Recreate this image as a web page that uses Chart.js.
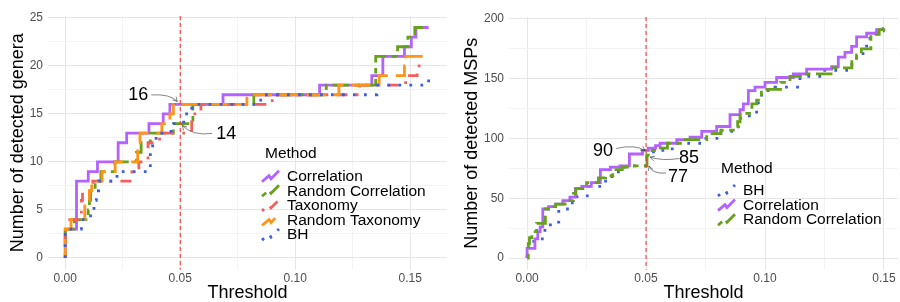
<!DOCTYPE html>
<html>
<head>
<meta charset="utf-8">
<script src="https://cdn.jsdelivr.net/npm/chart.js@4"></script>
<style>
  body { margin: 0; background: #fff; }
  #wrap { display: flex; width: 900px; height: 302px; }
  canvas { display: block; }
</style>
</head>
<body>
<div id="wrap">
  <canvas id="genera" width="450" height="302"></canvas>
  <canvas id="msps" width="450" height="302"></canvas>
</div>
<script>
// Genera panel: step points [threshold, count]
const generaCorrelation = [[0,0],[0,3],[0.0049,8],[0.010,9],[0.014,10],[0.023,12],[0.0267,13],[0.0364,14],[0.0426,15],[0.0455,16],[0.0686,17],[0.1106,18],[0.1333,19],[0.1381,21],[0.1475,22],[0.1505,23],[0.1525,24],[0.158,24]];
const generaRandomCorrelation = [[0,0],[0,3],[0.004,4],[0.010,5],[0.0105,6],[0.011,7],[0.013,8],[0.0155,9],[0.0215,10],[0.031,11],[0.033,12],[0.037,13],[0.047,14],[0.0555,16],[0.082,17],[0.1135,18],[0.135,21],[0.1445,22],[0.149,23],[0.152,24],[0.158,24]];
const generaTaxonomy = [[0,0],[0,3],[0.002,4],[0.007,6],[0.0075,7],[0.012,8],[0.029,9],[0.032,10],[0.036,12],[0.041,13],[0.055,15],[0.059,16],[0.09,17],[0.128,18],[0.148,19],[0.153,20],[0.155,20]];
const generaRandomTaxonomy = [[0,0],[0,3],[0.0025,4],[0.0085,6],[0.0105,7],[0.0115,8],[0.016,9],[0.0217,10],[0.0315,12],[0.0325,13],[0.042,14],[0.0455,15],[0.047,16],[0.079,17],[0.119,18],[0.1365,19],[0.1475,20],[0.148,21],[0.158,21]];
const generaBH = [[0,0],[0,3],[0.007,4],[0.011,5],[0.0125,6],[0.0135,7],[0.0145,8],[0.0225,9],[0.037,11],[0.038,12],[0.0395,13],[0.046,14],[0.0515,15],[0.055,16],[0.085,17],[0.1355,18],[0.158,19],[0.159,19]];

// MSP panel
const mspBH = [[0,0],[0,5],[0.0007,10],[0.0028,16],[0.0075,25],[0.0098,30],[0.0133,41],[0.019,50],[0.021,52],[0.0259,60],[0.033,66],[0.0357,72],[0.039,76],[0.0435,77],[0.0497,85],[0.0525,87],[0.0531,90],[0.061,96],[0.0739,100],[0.0815,106],[0.0888,117],[0.0934,122],[0.0972,134],[0.0986,140],[0.1042,143],[0.1147,152],[0.1245,157],[0.1343,160],[0.1365,166],[0.1385,171],[0.1427,180],[0.1441,187],[0.1465,190],[0.1497,192],[0.15,192]];
const mspCorrelation = [[0,0],[0,8],[0.0033,16],[0.0045,22],[0.0055,26],[0.0066,41],[0.009,43],[0.012,45],[0.015,48],[0.018,51],[0.0203,58],[0.023,60],[0.027,63],[0.0308,74],[0.035,76],[0.039,77],[0.043,87],[0.0485,90],[0.051,92],[0.054,94],[0.0559,96],[0.0629,99],[0.0685,101],[0.0734,106],[0.0797,110],[0.0853,120],[0.0895,124],[0.0909,129],[0.093,140],[0.0958,143],[0.1,147],[0.1049,151],[0.1119,154],[0.1175,158],[0.128,160],[0.1308,168],[0.1336,172],[0.1364,177],[0.1385,185],[0.1427,188],[0.1469,191],[0.1497,192],[0.15,192]];
const mspRandomCorrelation = [[0,0],[0.0005,12],[0.001,17],[0.002,22],[0.004,29],[0.0077,41],[0.009,43],[0.012,45],[0.016,48],[0.0195,54],[0.0205,58],[0.025,63],[0.03,67],[0.033,69],[0.036,74],[0.04,76],[0.043,77],[0.0504,86],[0.0525,90],[0.056,92],[0.059,96],[0.0665,99],[0.0755,104],[0.0815,107],[0.088,110],[0.0885,114],[0.0895,121],[0.0945,129],[0.0965,132],[0.0985,141],[0.1065,147],[0.1105,152],[0.1175,154],[0.1285,159],[0.1365,166],[0.1385,170],[0.1405,175],[0.1445,187],[0.148,191],[0.15,192]];

// Ticks
const xMajor = [0, 0.05, 0.10, 0.15];
const xMinor = [0.025, 0.075, 0.125];
const generaMajor = [0, 5, 10, 15, 20, 25];
const generaMinor = [2.5, 7.5, 12.5, 17.5, 22.5];
const mspMajor = [0, 50, 100, 150, 200];
const mspMinor = [25, 75, 125, 175];

const FONT = '"Liberation Sans", Arial, sans-serif';
const LW = 2.8;
const styles = {
  'Correlation':        { color: '#b462ff', dash: [] },
  'Random Correlation': { color: '#66a11a', dash: [5.5, 5.5, 16.5, 5.5] },
  'Taxonomy':           { color: '#f2605c', dash: [2.75, 8.25, 11, 8.25] },
  'Random Taxonomy':    { color: '#ff9415', dash: [19, 8] },
  'BH':                 { color: '#3c5ce6', dash: [2.75, 8.25] }
};

function toXY(arr) {
  return arr.map(p => ({ x: p[0], y: p[1] }));
}

function makeDataset(label, arr, order) {
  const s = styles[label];
  return {
    label: label,
    data: toXY(arr),
    borderColor: s.color,
    borderWidth: LW,
    borderDash: s.dash,
    stepped: true,
    pointRadius: 0,
    fill: false,
    order: order
  };
}

const isIn = (list, v) => list.some(m => Math.abs(m - v) < 1e-9);

// draws the 0.05 line, legend and labelled arrows
const extras = {
  id: 'extras',
  afterDatasetsDraw(chart, args, opts) {
    const ctx = chart.ctx;
    const xs = chart.scales.x, ys = chart.scales.y;
    const area = chart.chartArea;
    ctx.save();

    // dashed threshold line
    const vx = xs.getPixelForValue(opts.vline);
    ctx.strokeStyle = '#ff3333';
    ctx.lineWidth = 1.1;
    ctx.setLineDash([4, 3]);
    ctx.beginPath();
    ctx.moveTo(vx, area.top);
    ctx.lineTo(vx, area.bottom);
    ctx.stroke();
    ctx.setLineDash([]);

    // notes with curved arrows
    opts.notes.forEach(n => {
      const P = p => [xs.getPixelForValue(p[0]), ys.getPixelForValue(p[1])];
      const t = P(n.at), s = P(n.from), c = P(n.ctrl), e = P(n.to);
      ctx.fillStyle = '#000';
      ctx.font = '18px ' + FONT;
      ctx.textAlign = 'center';
      ctx.textBaseline = 'middle';
      ctx.fillText(n.text, t[0], t[1]);
      ctx.strokeStyle = '#333';
      ctx.lineWidth = 0.6;
      ctx.beginPath();
      ctx.moveTo(s[0], s[1]);
      ctx.quadraticCurveTo(c[0], c[1], e[0], e[1]);
      ctx.stroke();
      const ang = Math.atan2(e[1] - c[1], e[0] - c[0]);
      ctx.beginPath();
      ctx.moveTo(e[0] - 5 * Math.cos(ang - 0.5), e[1] - 5 * Math.sin(ang - 0.5));
      ctx.lineTo(e[0], e[1]);
      ctx.lineTo(e[0] - 5 * Math.cos(ang + 0.5), e[1] - 5 * Math.sin(ang + 0.5));
      ctx.stroke();
    });

    // legend
    const lg = opts.legend;
    ctx.fillStyle = '#000';
    ctx.font = '15.5px ' + FONT;
    ctx.textAlign = 'left';
    ctx.textBaseline = 'middle';
    ctx.fillText('Method', lg.x, lg.y);
    lg.items.forEach((label, i) => {
      const cy = lg.y + 22.7 + i * 14.6;
      const kx = lg.x - 3;
      const s = styles[label];
      ctx.strokeStyle = s.color;
      ctx.lineWidth = LW;
      ctx.setLineDash(s.dash);
      ctx.beginPath();
      ctx.moveTo(kx, cy + 5);
      ctx.lineTo(kx + 7, cy - 1);
      ctx.lineTo(kx + 9, cy + 2);
      ctx.lineTo(kx + 17, cy - 6);
      ctx.stroke();
      ctx.setLineDash([]);
      ctx.fillStyle = '#000';
      ctx.fillText(label, lg.x + 22, cy);
    });
    ctx.restore();
  }
};

function makeChart(id, cfg) {
  const yAll = cfg.yMajor.concat(cfg.yMinor).sort((a, b) => a - b);
  const xAll = xMajor.concat(xMinor).sort((a, b) => a - b);
  const gridColor = list => c => (c.tick && isIn(list, c.tick.value)) ? '#e6e6e6' : '#f3f3f3';
  return new Chart(document.getElementById(id), {
    type: 'line',
    data: { datasets: cfg.datasets },
    options: {
      responsive: false,
      animation: false,
      devicePixelRatio: 1,
      layout: { padding: { top: cfg.top, right: cfg.right, left: 0, bottom: 0 } },
      plugins: {
        legend: { display: false },
        tooltip: { enabled: false },
        extras: { vline: 0.05, notes: cfg.notes, legend: cfg.legend }
      },
      scales: {
        x: {
          type: 'linear',
          min: cfg.xMin, max: cfg.xMax,
          afterBuildTicks: s => { s.ticks = xAll.map(v => ({ value: v })); },
          afterFit: s => { s.height = 32.5; },
          border: { display: false },
          grid: { color: gridColor(xMajor), drawTicks: false },
          ticks: {
            padding: 2,
            color: '#4d4d4d',
            font: { family: FONT, size: 12 },
            maxRotation: 0,
            callback: v => isIn(xMajor, v) ? v.toFixed(2) : ''
          },
          title: {
            display: true, text: 'Threshold', color: '#000',
            font: { family: FONT, size: 18, lineHeight: 1 },
            padding: { top: 0, bottom: 0 }
          }
        },
        y: {
          min: cfg.yMin, max: cfg.yMax,
          afterBuildTicks: s => { s.ticks = yAll.map(v => ({ value: v })); },
          afterFit: s => { s.width = cfg.yWidth; },
          border: { display: false },
          grid: { color: gridColor(cfg.yMajor), drawTicks: false },
          ticks: {
            padding: 5,
            color: '#4d4d4d',
            font: { family: FONT, size: 12 },
            callback: v => isIn(cfg.yMajor, v) ? String(v) : ''
          },
          title: {
            display: true, text: cfg.yTitle, color: '#000',
            font: { family: FONT, size: 18, lineHeight: 1 },
            padding: { top: cfg.yTitlePad, bottom: 0 }
          }
        }
      }
    },
    plugins: [extras]
  });
}

makeChart('genera', {
  datasets: [
    makeDataset('Correlation', generaCorrelation, 5),
    makeDataset('Random Correlation', generaRandomCorrelation, 4),
    makeDataset('Taxonomy', generaTaxonomy, 3),
    makeDataset('Random Taxonomy', generaRandomTaxonomy, 2),
    makeDataset('BH', generaBH, 1)
  ],
  xMin: -0.0075, xMax: 0.166,
  yMin: -1.2, yMax: 25.2,
  yMajor: generaMajor, yMinor: generaMinor,
  yTitle: 'Number of detected genera',
  yWidth: 48, yTitlePad: 9.5, top: 16, right: 3,
  legend: { x: 265, y: 154, items: ['Correlation', 'Random Correlation', 'Taxonomy', 'Random Taxonomy', 'BH'] },
  notes: [
    { text: '16', at: [0.0317, 16.93], from: [0.0374, 16.98], ctrl: [0.0457, 17.1], to: [0.0487, 16.3] },
    { text: '14', at: [0.070, 12.92], from: [0.0639, 12.97], ctrl: [0.0552, 12.7], to: [0.0509, 13.8] }
  ]
});

makeChart('msps', {
  datasets: [
    makeDataset('BH', mspBH, 3),
    makeDataset('Correlation', mspCorrelation, 2),
    makeDataset('Random Correlation', mspRandomCorrelation, 1)
  ],
  xMin: -0.0076, xMax: 0.1559,
  yMin: -9.6, yMax: 201.6,
  yMajor: mspMajor, yMinor: mspMinor,
  yTitle: 'Number of detected MSPs',
  yWidth: 59, yTitlePad: 13.5, top: 17, right: 2,
  legend: { x: 271, y: 168.3, items: ['BH', 'Correlation', 'Random Correlation'] },
  notes: [
    { text: '90', at: [0.0319, 89.5], from: [0.0374, 91.6], ctrl: [0.0454, 95.3], to: [0.0496, 89.9] },
    { text: '85', at: [0.0681, 83.6], from: [0.0639, 83.2], ctrl: [0.0567, 81.1], to: [0.0517, 84.4] },
    { text: '77', at: [0.0634, 67.7], from: [0.0584, 71.1], ctrl: [0.0525, 70.2], to: [0.0513, 76.9] }
  ]
});
</script>
</body>
</html>
